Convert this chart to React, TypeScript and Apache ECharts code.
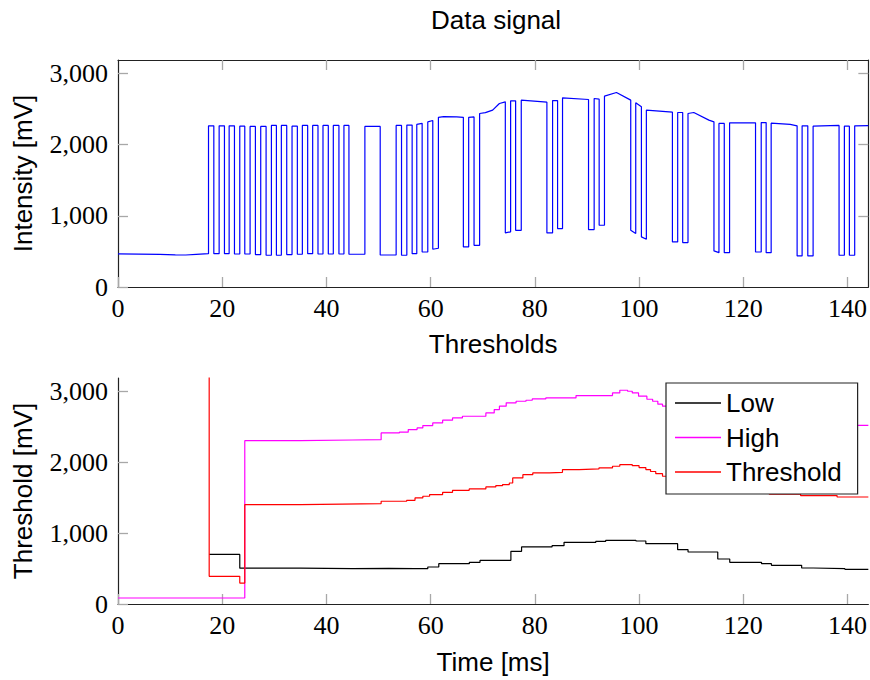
import { useEffect, useRef } from 'react';
import * as echarts from 'echarts';

const xTicks = [0, 20, 40, 60, 80, 100, 120, 140];
const yTicks = [0, 1000, 2000, 3000];
const xMax = 144;
const yMax = 3190;

// Data signal: [time ms, intensity mV]
const signal: [number, number][] = [
  [0, 465], [4, 463], [8, 458], [11, 452], [13, 450], [15, 458], [17.37, 468],
  [17.37, 2265], [18.39, 2265], [18.39, 469], [19.41, 469],
  [19.41, 2265], [20.43, 2265], [20.43, 469], [21.33, 469],
  [21.33, 2265], [22.35, 2265], [22.35, 464], [23.37, 464],
  [23.37, 2260], [24.33, 2260], [24.33, 464], [25.35, 464],
  [25.35, 2256], [26.37, 2256], [26.37, 455], [27.39, 455],
  [27.39, 2256], [28.42, 2256], [28.42, 446], [29.44, 446],
  [29.44, 2270], [30.4, 2270], [30.4, 446], [31.35, 446],
  [31.35, 2270], [32.38, 2270], [32.38, 455], [33.4, 455],
  [33.4, 2260], [34.42, 2260], [34.42, 460], [35.38, 460],
  [35.38, 2270], [36.4, 2270], [36.4, 469], [37.36, 469],
  [37.36, 2270], [38.38, 2270], [38.38, 464], [39.34, 464],
  [39.34, 2270], [40.36, 2270], [40.36, 464], [41.32, 464],
  [41.32, 2270], [42.4, 2270], [42.4, 464], [43.36, 464],
  [43.36, 2270], [44.32, 2270], [44.32, 460], [47.38, 460],
  [47.38, 2257], [50.32, 2257], [50.32, 450], [53.38, 450],
  [53.38, 2270], [54.41, 2270], [54.41, 446], [55.43, 446],
  [55.43, 2275], [56.45, 2275], [56.45, 469], [57.34, 469],
  [57.34, 2285], [58.37, 2300], [58.37, 492], [59.45, 492],
  [59.45, 2320], [60.41, 2340], [60.41, 530], [61.49, 545],
  [61.49, 2385], [62.5, 2395], [65, 2392], [66.28, 2385], [66.28, 563], [67.3, 563],
  [67.3, 2385], [68.33, 2390], [68.33, 586], [69.4, 586],
  [69.4, 2438], [70.5, 2450], [71.9, 2485], [73.2, 2579], [74.33, 2602], [74.33, 760], [75.35, 775],
  [75.35, 2616], [76.31, 2616], [76.31, 797], [77.39, 797],
  [77.39, 2626], [82.31, 2597], [82.31, 760], [83.4, 760],
  [83.4, 2620], [84.36, 2620], [84.36, 821], [85.31, 821],
  [85.31, 2659], [90.3, 2635], [90.3, 807], [91.38, 807],
  [91.38, 2649], [92.34, 2640], [92.34, 868], [93.36, 868],
  [93.36, 2682], [95.66, 2734], [98.4, 2626], [98.4, 797], [99.36, 751],
  [99.36, 2588], [100.45, 2532], [100.45, 704], [101.4, 671],
  [101.4, 2485], [106.4, 2457], [106.4, 633], [107.41, 633],
  [107.41, 2452], [108.37, 2452], [108.37, 624], [109.39, 624],
  [109.39, 2438], [110.5, 2452], [113.4, 2345], [114.37, 2321], [114.37, 507], [115.33, 483],
  [115.33, 2298], [116.35, 2298], [116.35, 483], [117.37, 483],
  [117.37, 2307], [122.35, 2307], [122.35, 492], [123.44, 492],
  [123.44, 2310], [124.39, 2310], [124.39, 483], [125.35, 483],
  [125.35, 2302], [129, 2285], [130.33, 2265], [130.33, 436], [131.29, 436],
  [131.29, 2265], [132.38, 2265], [132.38, 436], [133.4, 436],
  [133.4, 2260], [138.38, 2270], [138.38, 446], [139.4, 446],
  [139.4, 2260], [140.36, 2260], [140.36, 446], [141.38, 446],
  [141.38, 2265], [144, 2268],
];

// Thresholds (step functions): [time ms, level mV], level holds until next time
const low: [number, number][] = [
  [17.5, 700], [23.37, 505], [35, 500], [45, 502], [52, 500], [57, 498],
  [59.45, 522], [61.56, 569], [67.43, 588], [69.48, 616], [75.4, 743], [77.45, 805],
  [83.3, 823], [85.6, 870], [91.7, 884], [93.6, 899], [99.4, 889], [101.3, 852],
  [107.4, 767], [109.4, 734], [115.1, 635], [117.4, 588], [123.5, 569], [125.4, 546],
  [131.2, 508], [133.4, 499], [139.5, 489], [144, 489],
];

const high: [number, number][] = [
  [0, 85], [24.33, 2306], [35, 2315], [45, 2320], [50.5, 2415], [54, 2425],
  [55.7, 2462], [57.4, 2485], [58.5, 2518], [60.4, 2556], [62.3, 2594], [64.2, 2627],
  [66.1, 2650], [70.6, 2697], [72.2, 2745], [73.2, 2792], [74.5, 2839], [76.4, 2862],
  [78.3, 2876], [79.5, 2895], [82.1, 2909], [87.9, 2942], [94.9, 2980], [96.3, 3017],
  [97.8, 3003], [98.7, 2980], [99.9, 2933], [101.5, 2890], [102.6, 2862], [103.6, 2820],
  [104.5, 2792], [106, 2750], [108, 2700], [112, 2640], [118, 2580], [125, 2540],
  [134, 2520], [144, 2518],
];

const threshold: [number, number][] = [
  [17.5, 5000], [17.5, 390], [23.37, 296], [24.33, 1402], [35, 1410], [43, 1417],
  [50.5, 1450], [55.4, 1464], [57, 1497], [58.5, 1521], [59.8, 1544], [62.3, 1577],
  [64.2, 1605], [67.4, 1624], [70.6, 1652], [72.5, 1670], [73.8, 1685], [75.1, 1708],
  [75.75, 1779], [77.7, 1826], [79.6, 1850], [82.8, 1859], [85.3, 1897], [88.5, 1906],
  [92.3, 1920], [94.9, 1944], [96.3, 1967], [98.7, 1953], [100, 1925], [101.3, 1897],
  [102.2, 1870], [103.2, 1840], [104.5, 1803], [106, 1770], [108, 1720], [111, 1670],
  [115, 1620], [120, 1580], [125, 1550], [131, 1530], [138, 1510], [144, 1505],
];

const SERIF = '"Liberation Serif", "Times New Roman", serif';
const SANS = '"Liberation Sans", Arial, Helvetica, sans-serif';
const AXIS = '#222';
const TICK = '#a8a8a8';

const fmt = (v: number) => v.toLocaleString('en-US');

const tickStyle = (values: number[]) => ({
  show: true,
  inside: true,
  length: 10,
  customValues: values,
  lineStyle: { color: TICK, width: 1.3 },
});
const lineAxis = { show: true, onZero: false, lineStyle: { color: AXIS, width: 1.2 } };
const labelSerif = { fontFamily: SERIF, fontSize: 26, color: '#000' };
const nameSans = { fontFamily: SANS, fontSize: 26, color: '#000' };

function buildOption() {
  return {
    animation: false,
    backgroundColor: '#fff',
    title: {
      text: 'Data signal',
      left: 431,
      top: 7,
      padding: 0,
      textStyle: { fontFamily: SANS, fontSize: 26, fontWeight: 'normal', color: '#000' },
    },
    grid: [
      { left: 118, top: 60, width: 752, height: 227 },
      { left: 118, top: 378, width: 752, height: 226 },
    ],
    legend: {
      data: ['Low', 'High', 'Threshold'],
      orient: 'vertical',
      left: 666,
      top: 383,
      icon: 'rect',
      itemWidth: 46,
      itemHeight: 1.3,
      itemGap: 8.5,
      padding: [7, 16, 9, 9],
      borderColor: AXIS,
      borderWidth: 1.2,
      backgroundColor: '#fff',
      selectedMode: false,
      textStyle: { fontFamily: SANS, fontSize: 26, color: '#000' },
    },
    xAxis: [
      {
        type: 'value', gridIndex: 0, min: 0, max: xMax, position: 'bottom',
        name: 'Thresholds', nameLocation: 'middle', nameGap: 44, nameTextStyle: nameSans,
        axisLine: lineAxis, axisTick: tickStyle(xTicks),
        axisLabel: { ...labelSerif, customValues: xTicks, margin: 8 },
        splitLine: { show: false },
      },
      {
        type: 'value', gridIndex: 0, min: 0, max: xMax, position: 'top',
        axisLine: lineAxis, axisTick: tickStyle(xTicks.slice(1)),
        axisLabel: { show: false }, splitLine: { show: false },
      },
      {
        type: 'value', gridIndex: 1, min: 0, max: xMax, position: 'bottom',
        name: 'Time [ms]', nameLocation: 'middle', nameGap: 45, nameTextStyle: nameSans,
        axisLine: lineAxis, axisTick: tickStyle(xTicks),
        axisLabel: { ...labelSerif, customValues: xTicks, margin: 8 },
        splitLine: { show: false },
      },
    ],
    yAxis: [
      {
        type: 'value', gridIndex: 0, min: 0, max: yMax, position: 'left',
        name: 'Intensity [mV]', nameLocation: 'middle', nameGap: 82, nameTextStyle: nameSans,
        axisLine: lineAxis, axisTick: tickStyle(yTicks),
        axisLabel: { ...labelSerif, customValues: yTicks, margin: 10, formatter: fmt },
        splitLine: { show: false },
      },
      {
        type: 'value', gridIndex: 0, min: 0, max: yMax, position: 'right',
        axisLine: lineAxis, axisTick: tickStyle(yTicks.slice(1)),
        axisLabel: { show: false }, splitLine: { show: false },
      },
      {
        type: 'value', gridIndex: 1, min: 0, max: yMax, position: 'left',
        name: 'Threshold [mV]', nameLocation: 'middle', nameGap: 82, nameTextStyle: nameSans,
        axisLine: lineAxis, axisTick: tickStyle(yTicks),
        axisLabel: { ...labelSerif, customValues: yTicks, margin: 10, formatter: fmt },
        splitLine: { show: false },
      },
    ],
    series: [
      {
        name: 'Signal', type: 'line', xAxisIndex: 0, yAxisIndex: 0, data: signal,
        symbol: 'none', showSymbol: false, clip: true,
        lineStyle: { color: '#0000ff', width: 1.2 }, itemStyle: { color: '#0000ff' },
      },
      {
        name: 'Low', type: 'line', xAxisIndex: 2, yAxisIndex: 2, data: low, step: 'end',
        symbol: 'none', showSymbol: false, clip: true,
        lineStyle: { color: '#000000', width: 1.2 }, itemStyle: { color: '#000000' },
      },
      {
        name: 'High', type: 'line', xAxisIndex: 2, yAxisIndex: 2, data: high, step: 'end',
        symbol: 'none', showSymbol: false, clip: true,
        lineStyle: { color: '#ff00ff', width: 1.2 }, itemStyle: { color: '#ff00ff' },
      },
      {
        name: 'Threshold', type: 'line', xAxisIndex: 2, yAxisIndex: 2, data: threshold, step: 'end',
        symbol: 'none', showSymbol: false, clip: true,
        lineStyle: { color: '#ff0000', width: 1.2 }, itemStyle: { color: '#ff0000' },
      },
    ],
  };
}

export default function App() {
  const ref = useRef<HTMLDivElement>(null);
  useEffect(() => {
    if (!ref.current) return;
    const chart = echarts.init(ref.current, null, { renderer: 'svg' });
    chart.setOption(buildOption() as any);
    return () => chart.dispose();
  }, []);
  return (
    <div
      ref={ref}
      style={{ position: 'absolute', left: 0, top: 0, width: 870, height: 680, background: '#fff' }}
    />
  );
}
